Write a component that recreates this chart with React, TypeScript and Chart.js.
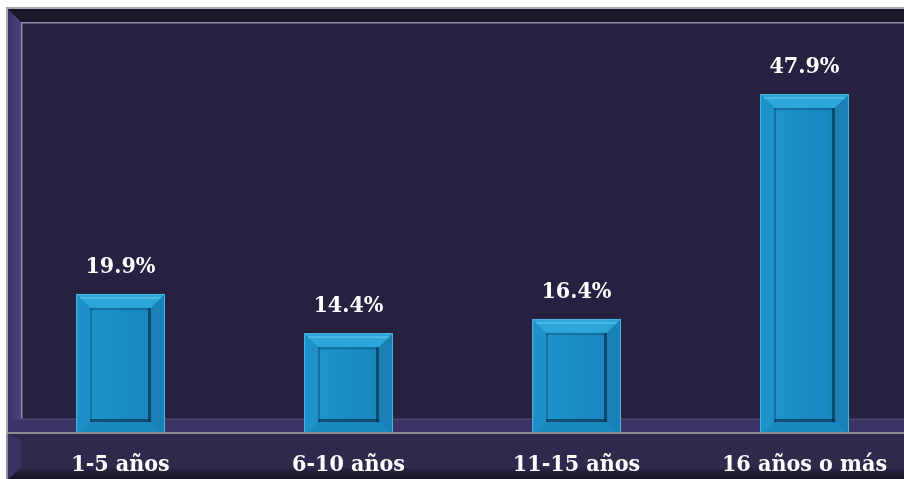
import React, { useEffect, useRef } from "react";
import { Chart, registerables } from "chart.js";

Chart.register(...registerables);

const categories = ["1-5 años", "6-10 años", "11-15 años", "16 años o más"];
const values = [19.9, 14.4, 16.4, 47.9];
const valueLabels = ["19.9%", "14.4%", "16.4%", "47.9%"];

const FONT = 'bold 23px "DejaVu Serif Condensed", "DejaVu Serif", serif';

const framePlugin = {
  id: "frame",
  beforeDraw(chart: any) {
    const { ctx, width, height } = chart;
    ctx.save();
    ctx.fillStyle = "#ffffff";
    ctx.fillRect(0, 0, width, height);
    // outer gray border
    ctx.fillStyle = "#a9a8ae";
    ctx.fillRect(6, 7, width - 6, height - 7);
    // top dark strip
    ctx.fillStyle = "#1b1729";
    ctx.fillRect(8, 9, width - 8, 13);
    // left bevel
    const g = ctx.createLinearGradient(8, 0, 21, 0);
    g.addColorStop(0, "#3a3266");
    g.addColorStop(1, "#4a4182");
    ctx.fillStyle = g;
    ctx.beginPath();
    ctx.moveTo(8, 9);
    ctx.lineTo(21, 22);
    ctx.lineTo(21, 420);
    ctx.lineTo(8, 432);
    ctx.closePath();
    ctx.fill();
    // panel
    ctx.fillStyle = "#272040";
    ctx.fillRect(21, 22, width - 21, 398);
    // inner border lines
    ctx.fillStyle = "#8f8da4";
    ctx.fillRect(21, 22, width - 21, 1.5);
    ctx.fillRect(21, 22, 1.5, 397);
    ctx.fillStyle = "#4a4470";
    ctx.fillRect(21, 418.5, width - 21, 1.5);
    // bottom purple strip
    ctx.fillStyle = "#3c3467";
    ctx.fillRect(8, 420, width - 8, 13);
    ctx.restore();
  },
  afterDatasetsDraw(chart: any) {
    const { ctx, width, height } = chart;
    const meta = chart.getDatasetMeta(0);
    ctx.save();
    // bevel overlay on bars
    meta.data.forEach((bar: any) => {
      const w = bar.width;
      const l = bar.x - w / 2;
      const r = bar.x + w / 2;
      const t = bar.y;
      const bt = bar.base;
      const b = 14;
      const poly = (pts: number[][], color: any) => {
        ctx.beginPath();
        ctx.moveTo(pts[0][0], pts[0][1]);
        for (let i = 1; i < pts.length; i++) ctx.lineTo(pts[i][0], pts[i][1]);
        ctx.closePath();
        ctx.fillStyle = color;
        ctx.fill();
      };
      // inner face
      const fg = ctx.createLinearGradient(l + b, 0, r - b, 0);
      fg.addColorStop(0, "#1d94cb");
      fg.addColorStop(0.5, "#1b8dc5");
      fg.addColorStop(1, "#1a88bf");
      ctx.fillStyle = fg;
      ctx.fillRect(l + b, t + b, w - 2 * b, bt - t - 2 * b);
      poly([[l, t], [r, t], [r - b, t + b], [l + b, t + b]], "#2ca6d8");
      poly([[l, t], [l + b, t + b], [l + b, bt - b], [l, bt]], "#1c92c9");
      poly([[r, t], [r, bt], [r - b, bt - b], [r - b, t + b]], "#1981b6");
      poly([[l, bt], [r, bt], [r - b, bt - b], [l + b, bt - b]], "#1b88be");
      // inner shadows
      ctx.fillStyle = "rgba(5,35,60,0.6)";
      ctx.fillRect(r - b - 3, t + b, 3, bt - t - 2 * b);
      ctx.fillRect(l + b, bt - b - 3, w - 2 * b, 3);
      ctx.fillStyle = "rgba(5,50,80,0.35)";
      ctx.fillRect(l + b, t + b, w - 2 * b, 2);
      ctx.fillRect(l + b, t + b, 2, bt - t - 2 * b);
      // highlight near top bevel
      ctx.fillStyle = "rgba(120,210,240,0.45)";
      ctx.fillRect(l + 4, t + 3, w - 8, 2);
      // outer edge
      ctx.strokeStyle = "#48b6e2";
      ctx.lineWidth = 1;
      ctx.strokeRect(l + 0.5, t + 0.5, w - 1, bt - t - 1);
    });
    // gray line
    ctx.fillStyle = "#8d8c90";
    ctx.fillRect(8, 432, width - 8, 2);
    // label area
    ctx.fillStyle = "#2f2a4b";
    ctx.fillRect(8, 434, width - 8, height - 434);
    ctx.fillStyle = "#3a3262";
    ctx.beginPath();
    ctx.moveTo(8, 434);
    ctx.lineTo(21, 440);
    ctx.lineTo(21, 468);
    ctx.lineTo(8, 479);
    ctx.closePath();
    ctx.fill();
    const bg = ctx.createLinearGradient(0, 468, 0, 479);
    bg.addColorStop(0, "#2a2545");
    bg.addColorStop(1, "#161325");
    ctx.fillStyle = bg;
    ctx.beginPath();
    ctx.moveTo(21, 468);
    ctx.lineTo(width, 468);
    ctx.lineTo(width, 479);
    ctx.lineTo(8, 479);
    ctx.closePath();
    ctx.fill();
    ctx.fillStyle = "#8f8da4";
    ctx.fillRect(6, 434, 2, height - 434);
    ctx.restore();
  },
  afterDraw(chart: any) {
    const { ctx } = chart;
    const meta = chart.getDatasetMeta(0);
    const xScale = chart.scales.x;
    ctx.save();
    ctx.font = FONT;
    ctx.fillStyle = "#ffffff";
    ctx.textAlign = "center";
    ctx.textBaseline = "middle";
    meta.data.forEach((bar: any, i: number) => {
      ctx.fillText(valueLabels[i], bar.x, bar.y - 27);
    });
    chart.data.labels.forEach((lab: string, i: number) => {
      ctx.fillText(lab, xScale.getPixelForValue(i), 465);
    });
    ctx.restore();
  },
};

export default function App() {
  const ref = useRef<HTMLCanvasElement>(null);
  useEffect(() => {
    if (!ref.current) return;
    const chart = new Chart(ref.current, {
      type: "bar",
      data: {
        labels: categories,
        datasets: [
          {
            data: values,
            backgroundColor: "#1b8cc4",
            borderWidth: 0,
            barPercentage: 0.39,
            categoryPercentage: 1,
          },
        ],
      },
      options: {
        responsive: false,
        maintainAspectRatio: false,
        animation: false,
        devicePixelRatio: 1,
        layout: { padding: { left: 6.5, right: 1.5, top: 22, bottom: 43 } },
        plugins: { legend: { display: false }, tooltip: { enabled: false } },
        scales: {
          x: { display: false, offset: true },
          y: { display: false, min: 0, max: 58 },
        },
      },
      plugins: [framePlugin],
    });
    return () => chart.destroy();
  }, []);
  return (
    <div
      style={{
        position: "fixed",
        left: 0,
        top: 0,
        width: 904,
        height: 479,
        overflow: "hidden",
        background: "#fff",
      }}
    >
      <canvas ref={ref} width={920} height={479} style={{ display: "block" }} />
    </div>
  );
}
